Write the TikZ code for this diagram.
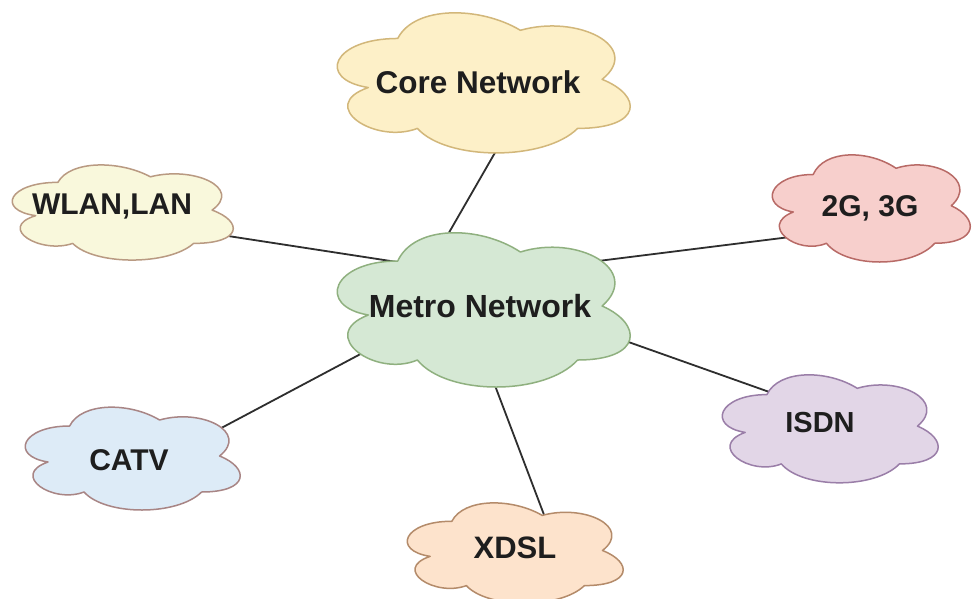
\documentclass[tikz,border=0pt]{standalone}
\usepackage{fontspec}
\setmainfont{Liberation Sans}
\usetikzlibrary{calc}
\definecolor{txt}{HTML}{1E1E1E}
\definecolor{ln}{HTML}{2E2E2E}
\definecolor{coreF}{HTML}{FDF0C8}\definecolor{coreD}{HTML}{D2B77A}
\definecolor{metroF}{HTML}{D5E8D4}\definecolor{metroD}{HTML}{8FB07F}
\definecolor{wlanF}{HTML}{F9F8DC}\definecolor{wlanD}{HTML}{B99A82}
\definecolor{gF}{HTML}{F7CFCC}\definecolor{gD}{HTML}{B86A66}
\definecolor{catvF}{HTML}{DDEBF7}\definecolor{catvD}{HTML}{A88585}
\definecolor{isdnF}{HTML}{E2D6E7}\definecolor{isdnD}{HTML}{9A7EA8}
\definecolor{xdslF}{HTML}{FDE3CC}\definecolor{xdslD}{HTML}{B48B6A}
\newcommand\mxcloud[5]{%
  \path[#1] (#2+0.25*#4, #3+0.25*#5)
   .. controls (#2+0.05*#4, #3+0.25*#5) and (#2, #3+0.5*#5) .. (#2+0.16*#4, #3+0.55*#5)
   .. controls (#2, #3+0.66*#5) and (#2+0.18*#4, #3+0.9*#5) .. (#2+0.31*#4, #3+0.8*#5)
   .. controls (#2+0.4*#4, #3+#5) and (#2+0.7*#4, #3+#5) .. (#2+0.8*#4, #3+0.8*#5)
   .. controls (#2+#4, #3+0.8*#5) and (#2+#4, #3+0.6*#5) .. (#2+0.875*#4, #3+0.5*#5)
   .. controls (#2+#4, #3+0.3*#5) and (#2+0.8*#4, #3+0.1*#5) .. (#2+0.625*#4, #3+0.2*#5)
   .. controls (#2+0.5*#4, #3+0.05*#5) and (#2+0.3*#4, #3+0.05*#5) .. (#2+0.25*#4, #3+0.25*#5)
   -- cycle;}
\tikzset{
  cloudbox/.style={line width=1.5pt, line join=round},
  lbl/.style={inner sep=0pt, text=txt, font=\bfseries},
  link/.style={draw=ln, line width=1.8pt}
}
\begin{document}
\begin{tikzpicture}[x=1pt,y=-1pt]
\clip (0,0) rectangle (972,598);
\fill[white] (0,0) rectangle (972,598);
% connector end points (hidden under the clouds)
\coordinate (coreS) at (500,144);
\coordinate (metroN) at (443,243);
\coordinate (wlanE) at (215,234);
\coordinate (metroW) at (410,264);
\coordinate (gW) at (790,237);
\coordinate (metroE) at (590,262);
\coordinate (metroSE) at (620,339);
\coordinate (isdnW) at (775,394);
\coordinate (catvE) at (210,434);
\coordinate (metroSW) at (370,349);
\coordinate (xdslN) at (546,520);
\coordinate (metroS) at (491,375);
% connectors
\draw[link] (coreS) -- (metroN);
\draw[link] (wlanE) -- (metroW);
\draw[link] (metroE) -- (gW);
\draw[link] (metroSE) -- (isdnW);
\draw[link] (catvE) -- (metroSW);
\draw[link] (xdslN) -- (metroS);
% clouds
\mxcloud{cloudbox, fill=coreF, draw=coreD}{316}{-2.4}{327}{163.5}
\mxcloud{cloudbox, fill=metroF, draw=metroD}{316}{216}{327}{180}
\mxcloud{cloudbox, fill=wlanF, draw=wlanD}{-3.8}{154.6}{246.7}{111}
\mxcloud{cloudbox, fill=gF, draw=gD}{757.9}{143.25}{221}{125}
\mxcloud{cloudbox, fill=catvF, draw=catvD}{9.6}{396}{240}{120}
\mxcloud{cloudbox, fill=isdnF, draw=isdnD}{706.6}{363.1}{241}{126}
\mxcloud{cloudbox, fill=xdslF, draw=xdslD}{391.6}{492}{241}{117}
% labels
\node[lbl, font=\bfseries\fontsize{31.5}{36}\selectfont] (core) at (478,82) {Core Network};
\node[lbl, font=\bfseries\fontsize{32}{36}\selectfont] (metro) at (480,306) {Metro Network};
\node[lbl, font=\bfseries\fontsize{30}{36}\selectfont] (wlan) at (112,206) {WLAN,LAN};
\node[lbl, font=\bfseries\fontsize{30}{36}\selectfont] (g23) at (870,208) {2G, 3G};
\node[lbl, font=\bfseries\fontsize{30}{36}\selectfont] (catv) at (129,460) {CATV};
\node[lbl, font=\bfseries\fontsize{29}{36}\selectfont] (isdn) at (820,423) {ISDN};
\node[lbl, font=\bfseries\fontsize{31}{36}\selectfont] (xdsl) at (515,548) {XDSL};
\end{tikzpicture}
\end{document}
